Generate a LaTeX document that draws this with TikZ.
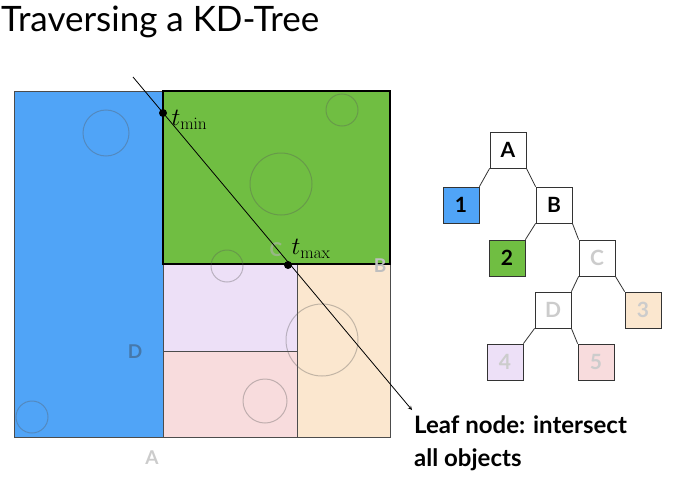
\documentclass[tikz,border=0pt]{standalone}
\usepackage[no-math]{fontspec}
\setmainfont{Lato}
\begin{document}
\begin{tikzpicture}[x=1pt,y=-1pt,
  circ/.style={draw=gray!70!black,opacity=0.35,line width=1pt},
  tn/.style={draw=black!80,line width=0.8pt,minimum size=36pt,inner sep=0pt,font=\fontsize{21}{22}\selectfont\bfseries},
  edge/.style={draw=black!80,line width=0.8pt},
  reg/.style={draw=black!70,line width=0.8pt}]
\useasboundingbox (0,0) rectangle (690,479);
\node[anchor=west,inner sep=0pt,font=\fontsize{35}{38}\selectfont] (title) at (1,22) {Traversing a KD-Tree};
\fill[fill={rgb,255:red,80;green,164;blue,247}] (14,91) rectangle (163,437);
\draw[reg] (14,91) rectangle (163,437);
\filldraw[reg,fill={rgb,255:red,237;green,224;blue,247}] (163,264) rectangle (297,351);
\filldraw[reg,fill={rgb,255:red,248;green,220;blue,221}] (163,351) rectangle (297,437);
\filldraw[reg,fill={rgb,255:red,251;green,231;blue,207}] (297,264) rectangle (390,437);
\fill[fill={rgb,255:red,112;green,190;blue,66}] (163,91) rectangle (390,264);
\draw[reg] (14,91) rectangle (390,437);
\draw[black,line width=2pt] (163,91) rectangle (390,264);
\draw[circ] (106,133) circle (23);
\draw[circ] (32,417) circle (16);
\draw[circ] (281,184) circle (31);
\draw[circ] (342,110) circle (16);
\draw[circ] (227,266) circle (16);
\draw[circ] (322,340) circle (36);
\draw[circ] (265,401) circle (22);
\node[font=\fontsize{19}{20}\selectfont\bfseries,text={rgb,255:red,70;green,120;blue,170}] (lD) at (135,352) {D};
\node[font=\fontsize{19}{20}\selectfont\bfseries,text=black!20] (lA) at (152,458) {A};
\node[font=\fontsize{19}{20}\selectfont\bfseries,text=black!30,opacity=0.6] (lC) at (276,250) {C};
\node[font=\fontsize{19}{20}\selectfont\bfseries,text=black!25] (lB) at (380,266) {B};
\coordinate (r0) at (133,77);
\node[circle,fill=black,inner sep=0pt,minimum size=8pt] (tmin) at (163,113) {};
\node[circle,fill=black,inner sep=0pt,minimum size=8pt] (tmax) at (288,265) {};
\node[anchor=west,font=\fontsize{24}{26}\selectfont] (tminl) at (168,120) {$t_{\min}$};
\node[anchor=west,font=\fontsize{24}{26}\selectfont] (tmaxl) at (288,249) {$t_{\max}$};
\node[anchor=west,align=left,inner sep=0pt,font=\fontsize{24}{33}\selectfont\bfseries] (leaf) at (414,443) {Leaf node: intersect\\all objects};
\coordinate (r1) at (412,410);
\draw[-stealth,line width=0.8pt] (r0) -- (r1);
% tree
\node[tn,fill=white] (A) at (508,150) {A};
\node[tn,fill={rgb,255:red,80;green,164;blue,247}] (n1) at (461,205) {1};
\node[tn,fill=white] (B) at (554,205) {B};
\node[tn,fill={rgb,255:red,112;green,190;blue,66}] (n2) at (507,258) {2};
\node[tn,fill=white,text=black!20] (C) at (597,258) {C};
\node[tn,fill=white,text=black!20] (D) at (553,310) {D};
\node[tn,fill={rgb,255:red,251;green,231;blue,207},text=black!20] (n3) at (643,310) {3};
\node[tn,fill={rgb,255:red,237;green,224;blue,247},text=black!20] (n4) at (505,362) {4};
\node[tn,fill={rgb,255:red,248;green,220;blue,221},text=black!20] (n5) at (596,362) {5};
\draw[edge] (A.south west) -- (n1.north east);
\draw[edge] (A.south east) -- (B.north west);
\draw[edge] (B.south west) -- (n2.north east);
\draw[edge] (B.south east) -- (C.north west);
\draw[edge] (C.south west) -- (D.north east);
\draw[edge] (C.south east) -- (n3.north west);
\draw[edge] (D.south west) -- (n4.north east);
\draw[edge] (D.south east) -- (n5.north west);
\end{tikzpicture}
\end{document}
